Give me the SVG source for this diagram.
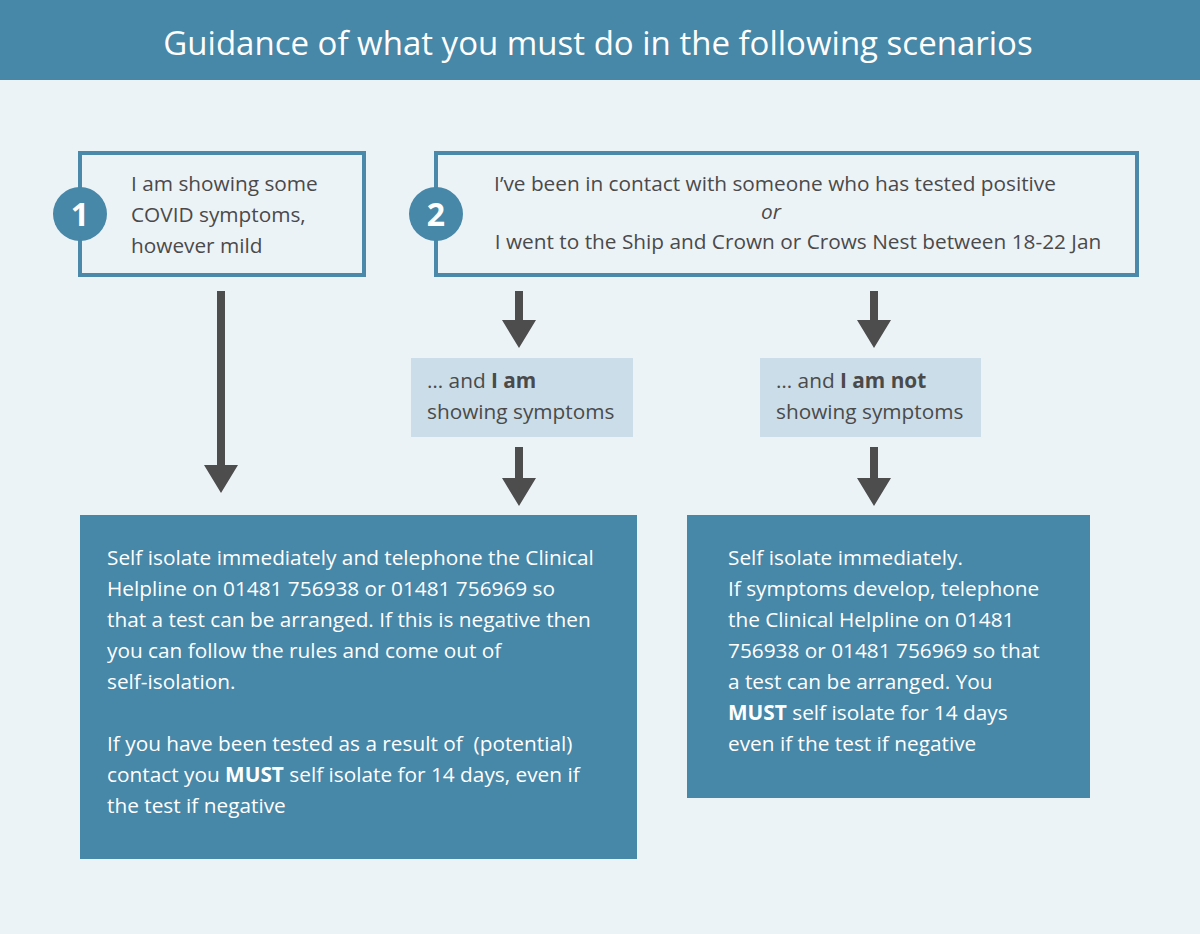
<svg xmlns="http://www.w3.org/2000/svg" width="1200" height="934" viewBox="0 0 1200 934">
<defs>
<style>
.t{font-family:"Open Sans","Liberation Sans",sans-serif;font-size:20.8px;fill:#4a4a4a}
.w{font-family:"Open Sans","Liberation Sans",sans-serif;font-size:20.8px;fill:#ffffff}
.b{font-weight:bold}
.frame{fill:#ecf3f7;stroke:#4a89aa;stroke-width:4}
.num{font-family:"Open Sans","Liberation Sans",sans-serif;font-size:32px;font-weight:bold;fill:#ffffff}
.cond{fill:#cbdde8}
.res{fill:#4787a8}
.arr{fill:#4d4d4d}
</style>
</defs>
<rect x="0" y="0" width="1200" height="934" fill="#ecf3f7"/>
<g id="header">
<rect x="0" y="0" width="1200" height="80" fill="#4787a8"/>
<text x="598" y="55" text-anchor="middle" font-family="'Open Sans','Liberation Sans',sans-serif" font-size="33" fill="#ffffff">Guidance of what you must do in the following scenarios</text>
</g>
<g id="connectors">
<path class="arr" d="M217,291 H225 V465 H238 L221,493 L204,465 H217 Z"/>
<path class="arr" d="M515,291 H523 V320 H536 L519,348 L502,320 H515 Z"/>
<path class="arr" d="M870,291 H878 V320 H891 L874,348 L857,320 H870 Z"/>
<path class="arr" d="M515,447 H523 V478 H536 L519,506 L502,478 H515 Z"/>
<path class="arr" d="M870,447 H878 V478 H891 L874,506 L857,478 H870 Z"/>
</g>
<g id="scenario1">
<rect class="frame" x="80" y="153" width="284" height="122"/>
<circle cx="80" cy="214" r="27" fill="#4787a8"/>
<text class="num" x="80" y="226" text-anchor="middle">1</text>
<text class="t" x="131" y="191">I am showing some</text>
<text class="t" x="131" y="222">COVID symptoms,</text>
<text class="t" x="131" y="253">however mild</text>
</g>
<g id="scenario2">
<rect class="frame" x="436" y="153" width="701" height="122"/>
<circle cx="436" cy="214" r="27" fill="#4787a8"/>
<text class="num" x="436" y="226" text-anchor="middle">2</text>
<text class="t" x="775" y="191" text-anchor="middle">I’ve been in contact with someone who has tested positive</text>
<text class="t" x="771" y="219" text-anchor="middle" font-style="italic">or</text>
<text class="t" x="798" y="249" text-anchor="middle">I went to the Ship and Crown or Crows Nest between 18-22 Jan</text>
</g>
<g id="cond-am">
<rect class="cond" x="411" y="358" width="222" height="79"/>
<text class="t" x="427" y="388">… and <tspan class="b">I am</tspan></text>
<text class="t" x="427" y="419">showing symptoms</text>
</g>
<g id="cond-amnot">
<rect class="cond" x="760" y="358" width="221" height="79"/>
<text class="t" x="776" y="388">… and <tspan class="b">I am not</tspan></text>
<text class="t" x="776" y="419">showing symptoms</text>
</g>
<g id="result1">
<rect class="res" x="80" y="515" width="557" height="344"/>
<text class="w" x="107" y="565">Self isolate immediately and telephone the Clinical</text>
<text class="w" x="107" y="596">Helpline on 01481 756938 or 01481 756969 so</text>
<text class="w" x="107" y="627">that a test can be arranged. If this is negative then</text>
<text class="w" x="107" y="658">you can follow the rules and come out of</text>
<text class="w" x="107" y="689">self-isolation.</text>
<text class="w" x="107" y="751" xml:space="preserve">If you have been tested as a result of  (potential)</text>
<text class="w" x="107" y="782">contact you <tspan class="b">MUST</tspan> self isolate for 14 days, even if</text>
<text class="w" x="107" y="813">the test if negative</text>
</g>
<g id="result2">
<rect class="res" x="687" y="515" width="403" height="283"/>
<text class="w" x="728" y="565">Self isolate immediately.</text>
<text class="w" x="728" y="596">If symptoms develop, telephone</text>
<text class="w" x="728" y="627">the Clinical Helpline on 01481</text>
<text class="w" x="728" y="658">756938 or 01481 756969 so that</text>
<text class="w" x="728" y="689">a test can be arranged. You</text>
<text class="w" x="728" y="720"><tspan class="b">MUST</tspan> self isolate for 14 days</text>
<text class="w" x="728" y="751">even if the test if negative</text>
</g>
</svg>
